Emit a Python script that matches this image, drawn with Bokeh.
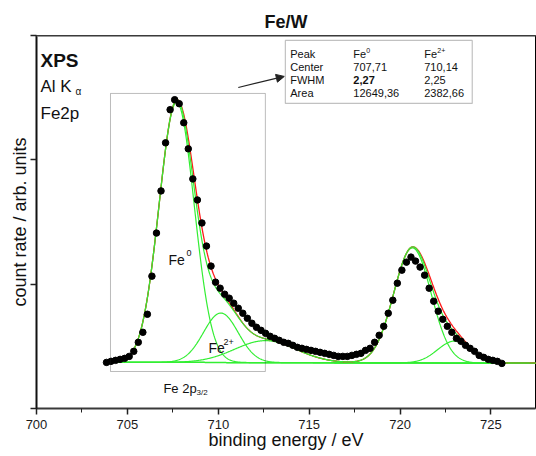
import numpy as np
from bokeh.plotting import figure
from bokeh.models import Range1d, FixedTicker, Label, Arrow, NormalHead, BoxAnnotation, Span
from bokeh.embed import file_html
from bokeh.resources import INLINE

# ---------------- data ----------------
# measured XPS spectrum (binding energy in eV, count rate in arb. units)
energy = [703.85 + 0.25 * i for i in range(88)]
counts = [927, 948, 968, 988, 1008, 1048, 1149, 1331, 1532, 1895,
          2661, 3528, 4375, 5342, 6008, 6209, 6129, 5746, 5221, 4617,
          4193, 3730, 3266, 2863, 2540, 2419, 2298, 2218, 2117, 2016,
          1915, 1814, 1714, 1633, 1572, 1512, 1452, 1411, 1371, 1331,
          1310, 1270, 1230, 1210, 1189, 1169, 1149, 1129, 1109, 1089,
          1068, 1048, 1048, 1048, 1068, 1089, 1109, 1169, 1210, 1331,
          1472, 1653, 1915, 2177, 2520, 2782, 2943, 3044, 2964, 2843,
          2681, 2419, 2157, 1956, 1794, 1653, 1532, 1411, 1351, 1270,
          1210, 1149, 1068, 1028, 988, 968, 948, 907]

# fitted Fe 2p3/2 peaks (values from the inset table)
peak_names = ["Fe0", "Fe2+"]
peak_centers = [707.71, 710.14]
peak_fwhm = [2.27, 2.25]
peak_areas = [12649.36, 2382.66]

# further fit components (satellite, Fe 2p1/2, its satellite)
extra_centers = [712.6, 720.68, 723.0]
extra_fwhm = [4.0, 2.42, 2.2]
extra_heights = [442, 2313, 442]

background = [930, 910]          # linear background at the ends of the fit range
fit_range = [703.85, 727.5]

x_ticks = [700, 705, 710, 715, 720, 725]
x_minor = [702.5, 707.5, 712.5, 717.5, 722.5, 727.5]
y_ticks = [0, 2500, 5000, 7500]

table_rows = ["Peak", "Center", "FWHM", "Area"]
table_fe0 = ["Fe", "707,71", "2,27", "12649,36"]
table_fe2 = ["Fe", "710,14", "2,25", "2382,66"]

FONT = "Liberation Sans"
GREEN = "#33ee33"
RED = "#ff1a1a"


def gauss(x, c, fwhm, h, right_factor=1.0):
    s = np.where(x < c, fwhm, fwhm * right_factor) / 2.3548
    return h * np.exp(-0.5 * ((x - c) / s) ** 2)


# ---------------- figure ----------------
p = figure(width=536, height=456, x_range=Range1d(700, 727.45), y_range=Range1d(0, 7500),
           output_backend="svg", toolbar_location=None,
           min_border_left=36, min_border_right=1, min_border_top=35, min_border_bottom=48)
p.grid.visible = False
p.outline_line_color = "black"
p.outline_line_width = 1
p.background_fill_color = "white"
p.border_fill_color = "white"

p.title.text = "Fe/W"
p.title.align = "center"
p.title.text_font = FONT
p.title.text_font_size = "18px"
p.title.text_font_style = "bold"
p.title.text_color = "#111111"
p.title.standoff = 7
p.title.offset = -4

xa = p.xaxis[0]
xa.ticker = FixedTicker(ticks=x_ticks, minor_ticks=x_minor)
xa.major_tick_out = 6
xa.major_tick_in = 0
xa.minor_tick_out = 4
xa.minor_tick_in = 0
xa.axis_line_width = 2
xa.axis_line_color = "#3a3a3a"
xa.major_tick_line_width = 1.5
xa.major_tick_line_color = "#222222"
xa.minor_tick_line_color = "#222222"
xa.major_label_text_font = FONT
xa.major_label_text_font_size = "13px"
xa.major_label_text_color = "#1a1a1a"
xa.major_label_standoff = 5
xa.axis_label = "binding energy / eV"
xa.axis_label_text_font = FONT
xa.axis_label_text_font_size = "18px"
xa.axis_label_text_font_style = "normal"
xa.axis_label_text_color = "#111111"
xa.axis_label_standoff = -2

ya = p.yaxis[0]
ya.ticker = FixedTicker(ticks=y_ticks, minor_ticks=[])
ya.major_label_overrides = {t: "" for t in y_ticks}
ya.major_label_text_font_size = "1px"
ya.major_label_standoff = 0
ya.major_tick_out = 6
ya.major_tick_in = 0
ya.minor_tick_out = 0
ya.minor_tick_in = 0
ya.axis_line_width = 2
ya.axis_line_color = "#111111"
ya.major_tick_line_width = 1.5
ya.major_tick_line_color = "#222222"
ya.axis_label = "count rate / arb. units"
ya.axis_label_text_font = FONT
ya.axis_label_text_font_size = "18px"
ya.axis_label_text_font_style = "normal"
ya.axis_label_text_color = "#111111"
ya.axis_label_standoff = 1

p.add_layout(Span(location=7500, dimension="width", line_color="#777777", line_width=2.5))

# ---------------- fit curves ----------------
xf = np.linspace(fit_range[0], fit_range[1], 900)
bg = background[0] + (background[1] - background[0]) * (xf - fit_range[0]) / (fit_range[1] - fit_range[0])

comps = []
for c, w, a in zip(peak_centers, peak_fwhm, peak_areas):
    comps.append((c, w, a / (1.0645 * w)))
for c, w, h in zip(extra_centers, extra_fwhm, extra_heights):
    comps.append((c, w, h))

env = bg.copy()
total = bg.copy()
for i, (c, w, h) in enumerate(comps):
    env = env + gauss(xf, c, w, h)
    rf = 1.07 if i in (0, 3) else 1.0
    total = total + gauss(xf, c, w, h, rf)

p.line(xf, bg, line_color=GREEN, line_width=1.3)
for c, w, h in comps:
    p.line(xf, bg + gauss(xf, c, w, h), line_color=GREEN, line_width=1.2)
p.line(xf, total, line_color=RED, line_width=1.3)
p.line(xf, env, line_color=GREEN, line_width=1.2)

p.scatter(energy, counts, size=6.5, color="black")

# ---------------- annotations ----------------
def lab(x, y, text, size, bold=False, align="left", baseline="alphabetic", angle=0.0):
    p.add_layout(Label(x=x, y=y, text=text, text_font=FONT, text_font_size=f"{size}px",
                       text_font_style="bold" if bold else "normal", text_align=align,
                       text_baseline=baseline, angle=angle, text_color="#111111"))

# upper-left texts
lab(700.22, 6998, "XPS", 19, bold=True)
lab(700.22, 6475, "Al K", 17)
lab(702.14, 6375, "α", 10)
lab(700.22, 5932, "Fe2p", 17)

# region box Fe 2p3/2
p.add_layout(BoxAnnotation(left=704.07, right=712.59, bottom=744, top=6335,
                           fill_alpha=0, line_color="#222222", line_width=1))
lab(706.98, 402, "Fe 2p", 13)
lab(708.80, 322, "3/2", 8)

# peak labels
lab(707.26, 2990, "Fe", 14)
lab(708.25, 3130, "0", 9)
lab(709.46, 1207, "Fe", 14)
lab(710.28, 1347, "2+", 9)

# table
p.add_layout(BoxAnnotation(left=713.69, right=723.97, bottom=6134, top=7400,
                           fill_color="white", fill_alpha=1, line_color="#333333", line_width=1.2))
row_y = [7119, 6857, 6596, 6335]
for yy, r, a, b in zip(row_y, table_rows, table_fe0, table_fe2):
    lab(713.96, yy, r, 11)
    lab(717.43, yy, a, 11, bold=(a == "2,27"))
    lab(721.33, yy, b, 11)
lab(718.14, 7199, "0", 7)
lab(722.05, 7199, "2+", 7)

p.add_layout(Arrow(x_start=711.10, y_start=6455, x_end=713.63, y_end=6677,
                   line_color="#222222", line_width=1.2,
                   end=NormalHead(size=8, fill_color="#222222", line_color="#222222")))

open("out.html", "w").write(file_html(p, INLINE))
